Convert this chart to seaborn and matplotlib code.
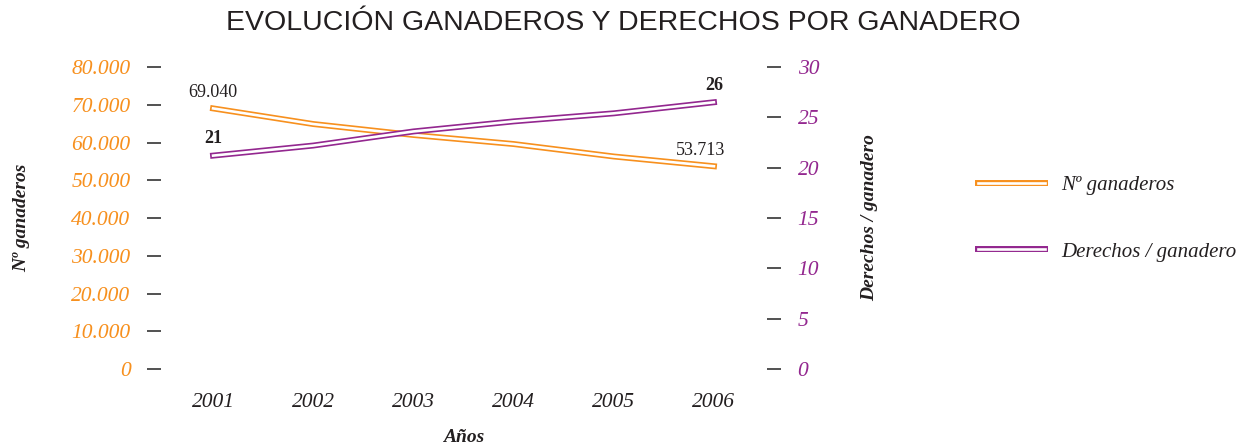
import matplotlib
matplotlib.use("Agg")
import matplotlib.pyplot as plt
import matplotlib.patheffects as pe
from matplotlib.lines import Line2D
import seaborn as sns
import pandas as pd

# ---- data ----
years = [2001, 2002, 2003, 2004, 2005, 2006]
ganaderos = [69040, 64900, 62000, 59600, 56300, 53713]
derechos = [21.2, 22.2, 23.6, 24.6, 25.4, 26.5]
left_ticks = [0, 10000, 20000, 30000, 40000, 50000, 60000, 70000, 80000]
right_ticks = [0, 5, 10, 15, 20, 25, 30]
ganaderos_labels = {2001: "69.040", 2006: "53.713"}
derechos_labels = {2001: "21", 2006: "26"}

title = "EVOLUCIÓN GANADEROS Y DERECHOS POR GANADERO"
series_names = ["Nº ganaderos", "Derechos / ganadero"]

ORANGE = "#F7901E"
PURPLE = "#93278F"
DARK = "#231F20"
SERIF = ["Liberation Serif", "DejaVu Serif"]

sns.set_style("white")
plt.rcParams["font.family"] = SERIF

df = pd.DataFrame({"year": years, "ganaderos": ganaderos, "derechos": derechos})

fig = plt.figure(figsize=(12.46, 4.48), dpi=100)
ax = fig.add_axes([0.1292, 0.1763, 0.4864, 0.6741])
ax2 = ax.twinx()

def ribbon(color):
    return [pe.Stroke(linewidth=4.3, foreground=color, capstyle="projecting", joinstyle="miter"),
            pe.Normal()]

sns.lineplot(data=df, x="year", y="ganaderos", ax=ax, color="white", lw=1.9,
             path_effects=ribbon(ORANGE), legend=False, clip_on=False,
             solid_capstyle="projecting", solid_joinstyle="miter")
sns.lineplot(data=df, x="year", y="derechos", ax=ax2, color="white", lw=1.9,
             path_effects=ribbon(PURPLE), legend=False, clip_on=False,
             solid_capstyle="projecting", solid_joinstyle="miter")

ax.set_xlim(2000.48, 2006.53)
ax.set_ylim(0, 80000)
ax2.set_ylim(0, 30)

for a in (ax, ax2):
    for s in a.spines.values():
        s.set_visible(False)
    a.set_xlabel("")
    a.set_ylabel("")
    a.grid(False)

ax.set_yticks(left_ticks)
ax.set_yticklabels([f"{v:,}".replace(",", ".") for v in left_ticks],
                   color=ORANGE, fontsize=15.5, fontstyle="italic")
ax2.set_yticks(right_ticks)
ax2.set_yticklabels([str(v) for v in right_ticks],
                    color=PURPLE, fontsize=15.5, fontstyle="italic")
ax.tick_params(axis="y", left=True, length=10, width=1.1, color="#222222", pad=12, direction="out")
ax2.tick_params(axis="y", right=True, length=10, width=1.1, color="#222222", pad=12, direction="out")

ax.set_xticks(years)
ax.set_xticklabels([str(y) for y in years], fontsize=15.5, fontstyle="italic", color=DARK)
ax.tick_params(axis="x", bottom=False, length=0, pad=17)

# annotations
for yr, lab in ganaderos_labels.items():
    v = ganaderos[years.index(yr)]
    dx = -9.5 if yr == 2006 else 0
    ax.annotate(lab, xy=(yr, v), xytext=(dx, 11.5), textcoords="offset points",
                ha="center", va="center", fontsize=13, color=DARK)
for yr, lab in derechos_labels.items():
    v = derechos[years.index(yr)]
    ax2.annotate(lab, xy=(yr, v), xytext=(0, 12), textcoords="offset points",
                 ha="center", va="center", fontsize=13, fontweight="bold", color=DARK)

fig.text(0.5, 0.949, title, ha="center", va="center", fontsize=20.5,
         family=["Liberation Sans", "DejaVu Sans"], color=DARK)
fig.text(22 / 1246, 1 - 218 / 448, series_names[0], rotation=90, ha="center", va="center",
         fontsize=14, fontweight="bold", fontstyle="italic", color=DARK)
fig.text(870 / 1246, 1 - 218 / 448, series_names[1], rotation=90, ha="center", va="center",
         fontsize=14, fontweight="bold", fontstyle="italic", color=DARK)
fig.text(464 / 1246, 1 - 437 / 448, "Años", ha="center", va="center",
         fontsize=14, fontweight="bold", fontstyle="italic", color=DARK)

handles = [Line2D([], [], color="white", lw=1.9, solid_capstyle="projecting",
                  path_effects=ribbon(ORANGE)),
           Line2D([], [], color="white", lw=1.9, solid_capstyle="projecting",
                  path_effects=ribbon(PURPLE))]
leg = fig.legend(handles, series_names, loc="center left",
                 bbox_to_anchor=(978 / 1246, 1 - 218.5 / 448), frameon=False,
                 borderpad=0, borderaxespad=0, handlelength=3.2, handletextpad=0.8,
                 labelspacing=2.26, prop={"size": 15, "style": "italic", "family": SERIF})
for t in leg.get_texts():
    t.set_color(DARK)

fig.savefig("out.png", dpi=100)
